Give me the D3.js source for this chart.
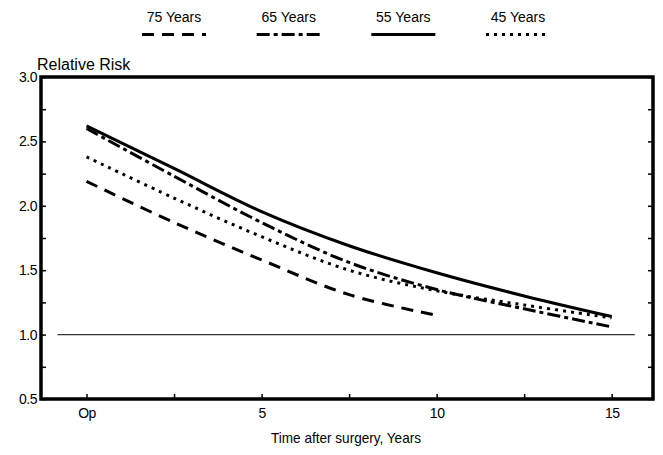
<!DOCTYPE html>
<html>
<head>
<meta charset="utf-8">
<script src="https://cdn.jsdelivr.net/npm/d3@7"></script>
<style>
  html, body { margin: 0; padding: 0; background: #fff; }
  svg text { font-family: "Liberation Sans", Arial, Helvetica, sans-serif; fill: #000; }
</style>
</head>
<body>
<svg id="chart" width="663" height="455"></svg>
<script>
// ---- data ----
const seriesNames = ["75 Years", "65 Years", "55 Years", "45 Years"];
const times75 = [0, 2.5, 5, 7.5, 10];
const risk75 = [2.19, 1.87, 1.58, 1.31, 1.15];
const times = [0, 2.5, 5, 7.5, 10, 12.5, 15];
const risk65 = [2.60, 2.23, 1.87, 1.56, 1.35, 1.20, 1.06];
const risk55 = [2.62, 2.29, 1.955, 1.69, 1.48, 1.30, 1.14];
const risk45 = [2.38, 2.06, 1.76, 1.50, 1.34, 1.23, 1.13];
const xTickValues = [0, 2.5, 5, 7.5, 10, 12.5, 15];
const xTickLabels = {0: "Op", 5: "5", 10: "10", 15: "15"};
const yTickValues = [0.5, 0.75, 1.0, 1.25, 1.5, 1.75, 2.0, 2.25, 2.5, 2.75, 3.0];
const yLabelValues = [0.5, 1.0, 1.5, 2.0, 2.5, 3.0];
const referenceLevel = 1.0;
const referenceSpan = [-0.83, 15.66];

const dashes = {"75 Years": "12,8", "65 Years": "13,4,4,4", "55 Years": null, "45 Years": "3,5"};
const seriesData = [
  {name: "75 Years", t: times75, v: risk75},
  {name: "65 Years", t: times, v: risk65},
  {name: "55 Years", t: times, v: risk55},
  {name: "45 Years", t: times, v: risk45}
];

// ---- layout ----
const svg = d3.select("#chart");
const mLeft = 41, mRight = 653, mTop = 77, mBottom = 399;
const x = d3.scaleLinear().domain([-1.3, 16.18]).range([mLeft, mRight]);
const y = d3.scaleLinear().domain([0.5, 3.0]).range([mBottom, mTop]);

// reference line at 1.0
svg.append("line")
  .attr("x1", x(referenceSpan[0])).attr("x2", x(referenceSpan[1]))
  .attr("y1", y(referenceLevel)).attr("y2", y(referenceLevel))
  .attr("stroke", "#333").attr("stroke-width", 1.3);

// series lines
const line = d3.line()
  .x(d => x(d[0])).y(d => y(d[1]))
  .curve(d3.curveCatmullRom.alpha(0.5));

svg.selectAll("path.series")
  .data(seriesData)
  .join("path")
  .attr("class", "series")
  .attr("d", s => line(s.t.map((t, i) => [t, s.v[i]])))
  .attr("fill", "none")
  .attr("stroke", "#000")
  .attr("stroke-width", 3)
  .attr("stroke-dasharray", s => dashes[s.name]);

// frame
svg.append("rect")
  .attr("x", mLeft).attr("y", mTop)
  .attr("width", mRight - mLeft).attr("height", mBottom - mTop)
  .attr("fill", "none").attr("stroke", "#000").attr("stroke-width", 3.5);

// y axis (left), ticks inward
const yAxisL = d3.axisRight(y).tickValues(yTickValues).tickSize(5).tickFormat("");
const gL = svg.append("g").attr("transform", `translate(${mLeft},0)`).call(yAxisL);
gL.select(".domain").remove();
gL.selectAll(".tick line").attr("stroke", "#000").attr("stroke-width", 1.5);

const yAxisR = d3.axisLeft(y).tickValues(yTickValues).tickSize(5).tickFormat("");
const gR = svg.append("g").attr("transform", `translate(${mRight},0)`).call(yAxisR);
gR.select(".domain").remove();
gR.selectAll(".tick line").attr("stroke", "#000").attr("stroke-width", 1.5);

// y labels
const yLab = d3.axisLeft(y).tickValues(yLabelValues).tickSize(0).tickPadding(3).tickFormat(d3.format(".1f"));
const gYL = svg.append("g").attr("transform", `translate(${mLeft - 1},0)`).call(yLab);
gYL.select(".domain").remove();
gYL.selectAll("text").style("font-size", "14px").style("letter-spacing", "-0.5px").attr("fill", "#000");

// x axis, ticks inward
const xAxis = d3.axisTop(x).tickValues(xTickValues).tickSize(5).tickFormat("");
const gX = svg.append("g").attr("transform", `translate(0,${mBottom})`).call(xAxis);
gX.select(".domain").remove();
gX.selectAll(".tick line").attr("stroke", "#000").attr("stroke-width", 1.5);

const xLab = d3.axisBottom(x).tickValues(Object.keys(xTickLabels).map(Number)).tickSize(0).tickPadding(9)
  .tickFormat(d => xTickLabels[d]);
const gXL = svg.append("g").attr("transform", `translate(0,${mBottom})`).call(xLab);
gXL.select(".domain").remove();
gXL.selectAll("text").style("font-size", "14px").style("letter-spacing", "-0.5px").attr("fill", "#000");

// axis titles
svg.append("text").attr("x", 37).attr("y", 70)
  .style("font-size", "16px").text("Relative Risk");
svg.append("text").attr("x", 346).attr("y", 443).attr("text-anchor", "middle")
  .style("font-size", "15px")
  .attr("textLength", 150).attr("lengthAdjust", "spacingAndGlyphs")
  .text("Time after surgery, Years");

// legend
const lx = d3.scalePoint().domain(seriesNames).range([174, 518]);
const lg = svg.selectAll("g.leg").data(seriesNames).join("g")
  .attr("class", "leg")
  .attr("transform", d => `translate(${lx(d)},0)`);
lg.append("text").attr("x", 0).attr("y", 22).attr("text-anchor", "middle")
  .style("font-size", "14px").text(d => d);
lg.append("line").attr("x1", -32).attr("x2", 32).attr("y1", 34.5).attr("y2", 34.5)
  .attr("stroke", "#000").attr("stroke-width", 3)
  .attr("stroke-dasharray", d => dashes[d]);
</script>
</body>
</html>
